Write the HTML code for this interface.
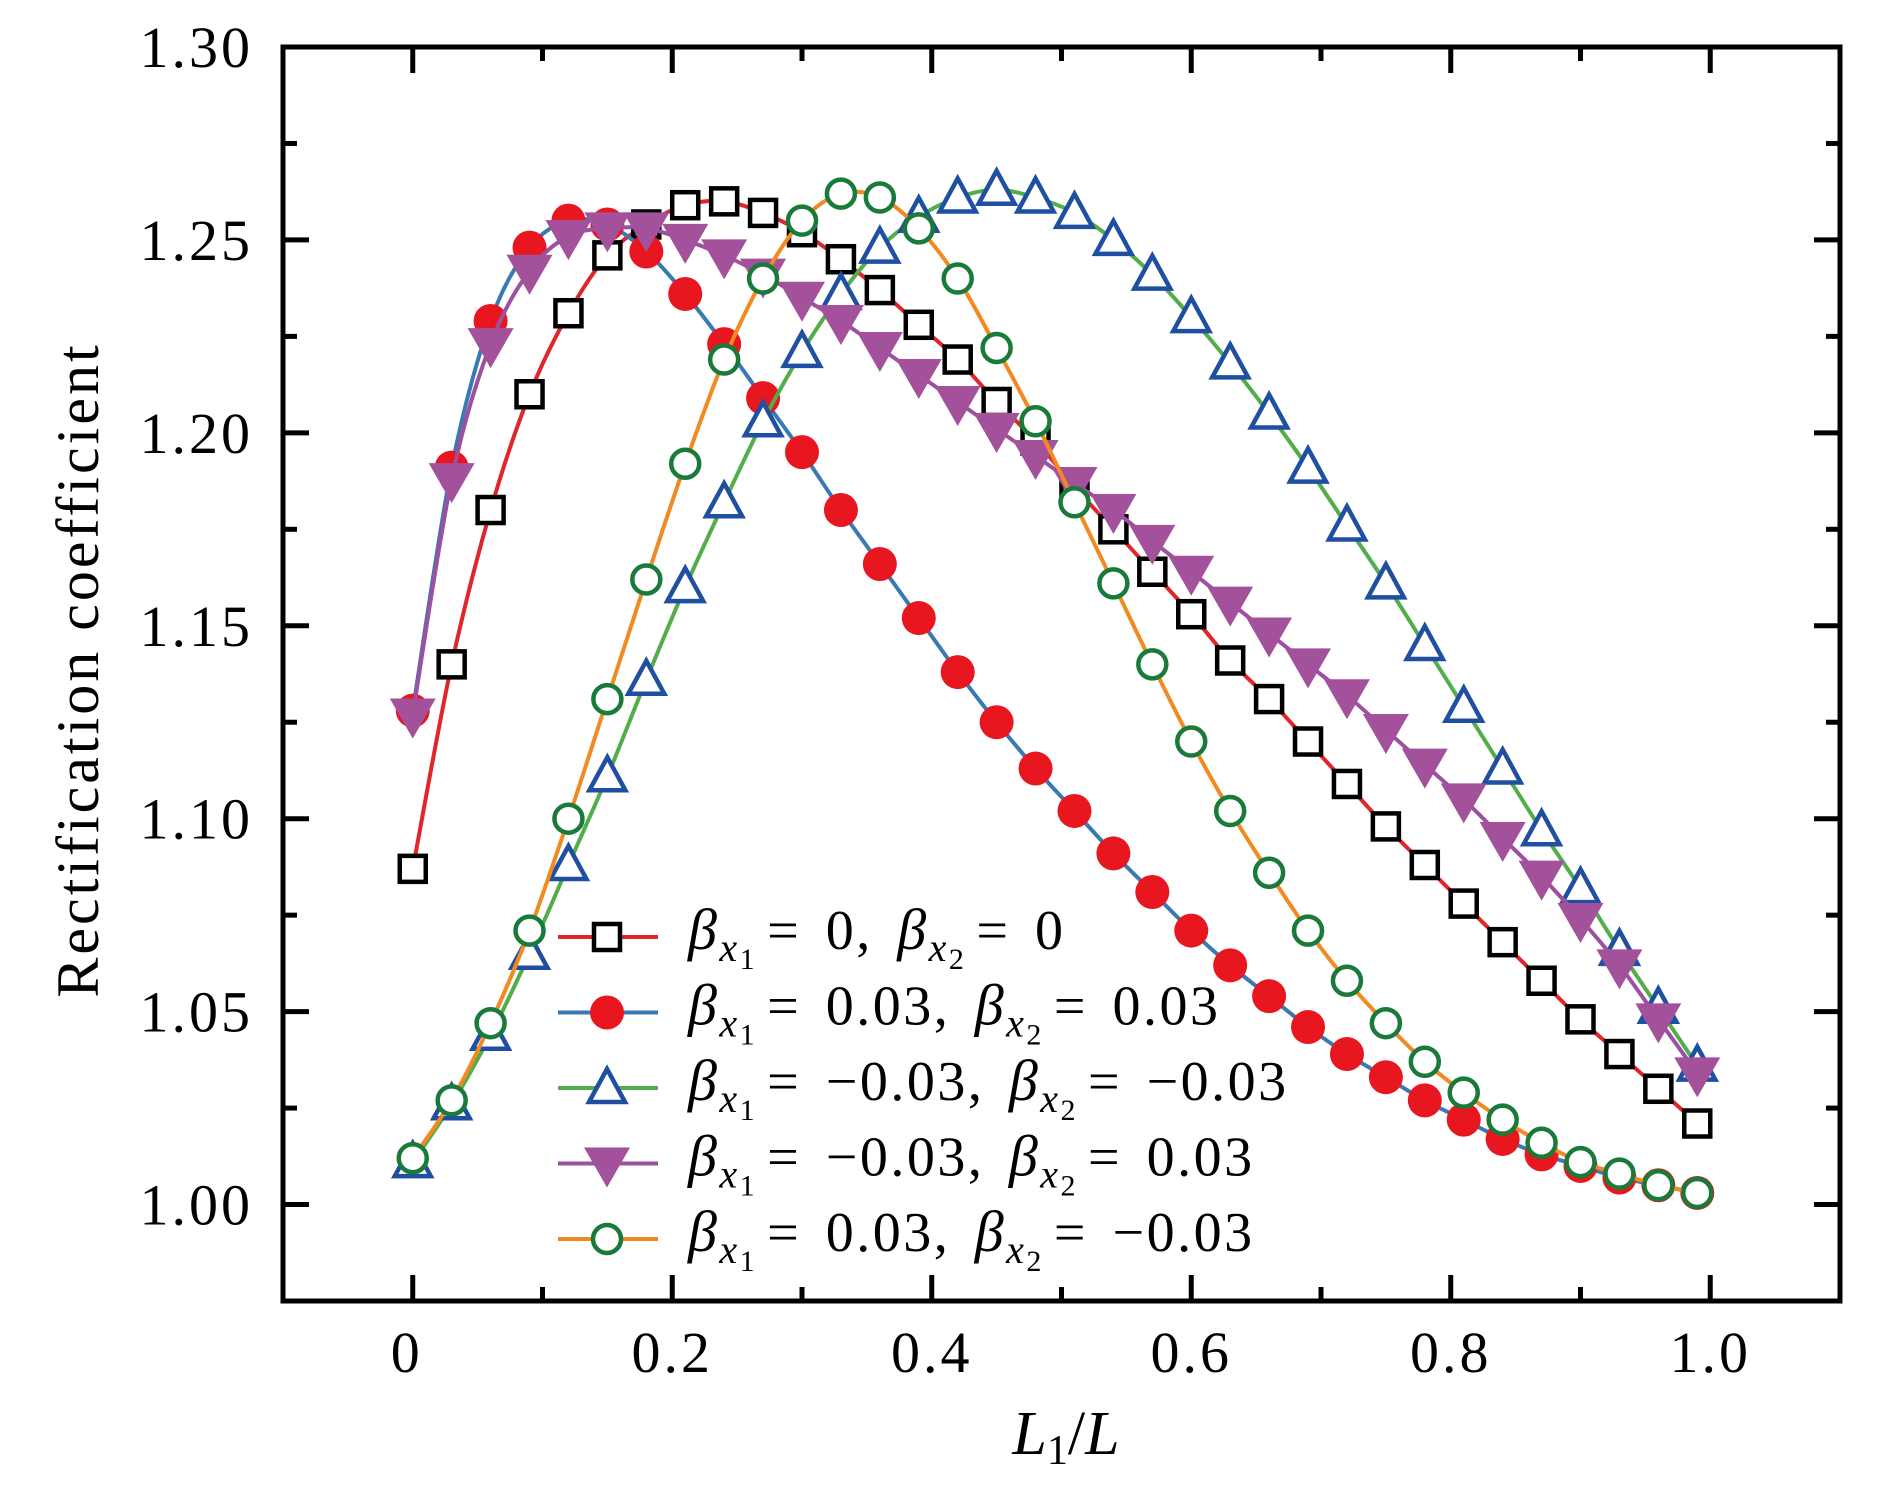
<!DOCTYPE html>
<html><head><meta charset="utf-8"><style>
html,body{margin:0;padding:0;background:#fff;}
svg{display:block;}
text{font-family:"Liberation Serif",serif;fill:#000;}
</style></head><body>
<svg id="chart" width="1890" height="1489" viewBox="0 0 1890 1489" xmlns="http://www.w3.org/2000/svg">
<g id="plot"></g>
<text x="98" y="670" font-size="60" text-anchor="middle" transform="rotate(-90 98 670)" letter-spacing="3">Rectification coefficient</text>
<text x="1066" y="1454" font-size="62" text-anchor="middle"><tspan font-style="italic">L</tspan><tspan font-size="42" dy="10">1</tspan><tspan dy="-10">/</tspan><tspan font-style="italic">L</tspan></text>
</svg>
<script>
const xValues=[0,0.03,0.06,0.09,0.12,0.15,0.18,0.21,0.24,0.27,0.30,0.33,0.36,0.39,0.42,0.45,0.48,0.51,0.54,0.57,0.60,0.63,0.66,0.69,0.72,0.75,0.78,0.81,0.84,0.87,0.90,0.93,0.96,0.99];
const seriesZero=[1.087,1.140,1.180,1.210,1.231,1.246,1.254,1.259,1.260,1.257,1.252,1.245,1.237,1.228,1.219,1.208,1.198,1.186,1.175,1.164,1.153,1.141,1.131,1.120,1.109,1.098,1.088,1.078,1.068,1.058,1.048,1.039,1.030,1.021];
const seriesPosPos=[1.128,1.191,1.229,1.248,1.255,1.254,1.247,1.236,1.223,1.209,1.195,1.180,1.166,1.152,1.138,1.125,1.113,1.102,1.091,1.081,1.071,1.062,1.054,1.046,1.039,1.033,1.027,1.022,1.017,1.013,1.010,1.007,1.005,1.003];
const seriesNegNeg=[1.011,1.026,1.044,1.065,1.088,1.111,1.136,1.160,1.182,1.203,1.221,1.236,1.248,1.256,1.261,1.263,1.261,1.257,1.250,1.241,1.230,1.218,1.205,1.191,1.176,1.161,1.145,1.129,1.113,1.097,1.082,1.066,1.051,1.036];
const seriesNegPos=[1.127,1.188,1.223,1.242,1.251,1.253,1.253,1.250,1.246,1.241,1.235,1.229,1.222,1.215,1.208,1.201,1.194,1.187,1.180,1.172,1.164,1.156,1.148,1.140,1.132,1.123,1.114,1.105,1.095,1.085,1.074,1.062,1.048,1.034];
const seriesPosNeg=[1.012,1.027,1.047,1.071,1.100,1.131,1.162,1.192,1.219,1.240,1.255,1.262,1.261,1.253,1.240,1.222,1.203,1.182,1.161,1.140,1.120,1.102,1.086,1.071,1.058,1.047,1.037,1.029,1.022,1.016,1.011,1.008,1.005,1.003];
const yTickValues=[1.00,1.05,1.10,1.15,1.20,1.25,1.30];
const yTickLabels=["1.00","1.05","1.10","1.15","1.20","1.25","1.30"];
const xTickValues=[0,0.2,0.4,0.6,0.8,1.0];
const xTickLabels=["0","0.2","0.4","0.6","0.8","1.0"];

const NS="http://www.w3.org/2000/svg";
const L=283,R=1840,T=47,B=1301;
const X0=-0.1,X1=1.1,Y0=0.975,Y1=1.30;
const sx=v=>L+(v-X0)/(X1-X0)*(R-L);
const sy=v=>B-(v-Y0)/(Y1-Y0)*(B-T);
const plot=document.getElementById('plot');
function mk(tag,attrs,parent){const e=document.createElementNS(NS,tag);for(const k in attrs)e.setAttribute(k,attrs[k]);(parent||plot).appendChild(e);return e;}

const ticks=mk('g',{});


for(let i=0;i<=13;i++){const v=0.975+i*0.025;if(v<0.976||v>1.299)continue;const major=i%2===1;const len=major?26:14;const y=sy(v);
mk('line',{x1:L,y1:y,x2:L+len,y2:y,stroke:'#000','stroke-width':5},ticks);mk('line',{x1:R,y1:y,x2:R-len,y2:y,stroke:'#000','stroke-width':5},ticks);}
for(let i=0;i<=10;i++){const v=i*0.1;const major=i%2===0;const len=major?26:14;const x=sx(v);
mk('line',{x1:x,y1:B,x2:x,y2:B-len,stroke:'#000','stroke-width':5},ticks);mk('line',{x1:x,y1:T,x2:x,y2:T+len,stroke:'#000','stroke-width':5},ticks);}
yTickValues.forEach((v,i)=>{const t=mk('text',{x:253,y:sy(v)+20,'font-size':58,'text-anchor':'end','letter-spacing':3});t.textContent=yTickLabels[i];

});
xTickValues.forEach((v,i)=>{const t=mk('text',{x:sx(v)-(i===0?6:0),y:1372,'font-size':58,'text-anchor':'middle','letter-spacing':3});t.textContent=xTickLabels[i];

});

function spline(pts){let d='M'+pts[0][0]+','+pts[0][1];for(let i=0;i<pts.length-1;i++){const p0=pts[i-1]||pts[i],p1=pts[i],p2=pts[i+1],p3=pts[i+2]||p2;
const c1=[p1[0]+(p2[0]-p0[0])/6,p1[1]+(p2[1]-p0[1])/6],c2=[p2[0]-(p3[0]-p1[0])/6,p2[1]-(p3[1]-p1[1])/6];d+=' C'+c1+' '+c2+' '+p2;}return d;}
function marker(g,type,x,y){
 if(type==='square')mk('rect',{x:x-13,y:y-13,width:26,height:26,fill:'#fff',stroke:'#000','stroke-width':4.5},g);
 else if(type==='dot')mk('circle',{cx:x,cy:y,r:17,fill:'#e8161e'},g);
 else if(type==='up')mk('polygon',{points:`${x},${y-19} ${x-18},${y+14} ${x+18},${y+14}`,fill:'#fff',stroke:'#1f4fa0','stroke-width':4.5},g);
 else if(type==='down')mk('polygon',{points:`${x-23},${y-16} ${x+23},${y-16} ${x},${y+24}`,fill:'#a4519c'},g);
 else if(type==='ring')mk('circle',{cx:x,cy:y,r:14,fill:'#fff',stroke:'#1a7a3a','stroke-width':4.5},g);
}
const series=[
 {name:'series-beta-0-0',data:seriesZero,line:'#e0262a',m:'square'},
 {name:'series-beta-003-003',data:seriesPosPos,line:'#3a7ab2',m:'dot'},
 {name:'series-beta-m003-m003',data:seriesNegNeg,line:'#52ad4a',m:'up'},
 {name:'series-beta-m003-003',data:seriesNegPos,line:'#9b50a0',m:'down'},
 {name:'series-beta-003-m003',data:seriesPosNeg,line:'#f28a22',m:'ring'}];
series.forEach(s=>{const g=mk('g',{});


const pts=xValues.map((x,i)=>[sx(x),sy(s.data[i])]);
mk('path',{d:spline(pts),fill:'none',stroke:s.line,'stroke-width':4},g);
pts.forEach(p=>marker(g,s.m,p[0],p[1]));});

const fr=mk('rect',{x:L,y:T,width:R-L,height:B-T,fill:'none',stroke:'#000','stroke-width':5});



const legendLabels=[['0','0'],['0.03','0.03'],['\u22120.03','\u22120.03'],['\u22120.03','0.03'],['0.03','\u22120.03']];
const lg=mk('g',{});


series.forEach((s,i)=>{const y=937+i*75.5;const e=mk('g',{},lg);


mk('line',{x1:558,y1:y,x2:658,y2:y,stroke:s.line,'stroke-width':4},e);
marker(e,s.m,607,y);
const t=mk('text',{x:688,y:y+12,'font-size':56,'letter-spacing':2.5,'word-spacing':8},e);
t.innerHTML=`<tspan font-style="italic" font-size="58">β</tspan><tspan font-style="italic" font-size="40" dy="12">x</tspan><tspan font-size="30" dy="8">1</tspan><tspan dy="-20" dx="10">= ${legendLabels[i][0]}, </tspan><tspan font-style="italic" font-size="58">β</tspan><tspan font-style="italic" font-size="40" dy="12">x</tspan><tspan font-size="30" dy="8">2</tspan><tspan dy="-20" dx="10">= ${legendLabels[i][1]}</tspan>`;
});
</script>
</body></html>
